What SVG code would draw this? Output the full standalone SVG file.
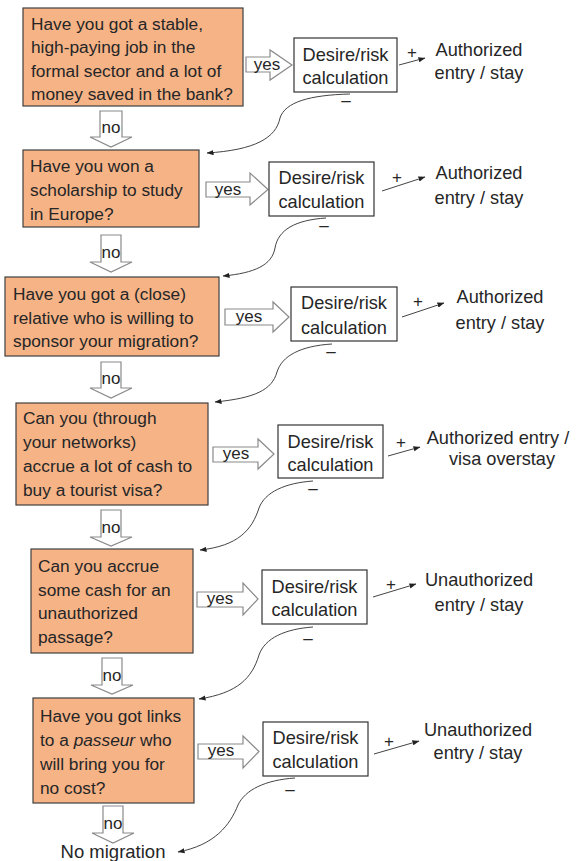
<svg xmlns="http://www.w3.org/2000/svg" width="577" height="861" viewBox="0 0 577 861">
<defs>
<marker id="ah" viewBox="0 0 8 6" refX="7.5" refY="3" markerWidth="7" markerHeight="5.5" markerUnits="userSpaceOnUse" orient="auto">
<path d="M0,0 L8,3 L0,6 Z" fill="#222"/>
</marker>
</defs>
<style>
text{font-family:"Liberation Sans",Arial,sans-serif;font-size:17px;fill:#262626}
.q text{font-size:17.3px}
.d text,.o text{font-size:18.2px}
#end text{font-size:18.5px}
.q rect{fill:#F5B386;stroke:#3f3f3f;stroke-width:1.2}
.d rect{fill:#fff;stroke:#333;stroke-width:1.2}
.blk{fill:#fff;stroke:#8a8a8a;stroke-width:1.2}
.c{fill:none;stroke:#444;stroke-width:1}
.m{text-anchor:middle}
</style>
<rect width="577" height="861" fill="#fff"/>

<g id="connectors">
<!-- yes arrows -->
<polygon class="blk" points="246,57 270,57 270,50 292,65 270,80 270,72 246,72"/>
<polygon class="blk" points="206,182 250,182 250,173 268,189.5 250,205 250,197 206,197"/>
<polygon class="blk" points="225,309 273,309 273,302 289,317 273,332 273,325 225,325"/>
<polygon class="blk" points="213,447 258,447 258,439 274,454 258,469 258,462 213,462"/>
<polygon class="blk" points="197,592 243,592 243,583 258,599 243,615 243,607 197,607"/>
<polygon class="blk" points="198,744 243,744 243,736 259,751.5 243,768 243,759 198,759"/>
<!-- no arrows -->
<polygon class="blk" points="100,111 122,111 122,137 132,137 111,147 90,137 100,137"/>
<polygon class="blk" points="101,235 121,235 121,262 132,262 111,272 90,262 101,262"/>
<polygon class="blk" points="101,362 121,362 121,388 132,388 111,398 90,388 101,388"/>
<polygon class="blk" points="101,510 121,510 121,537 132,537 111,546 90,537 101,537"/>
<polygon class="blk" points="102,658 122,658 122,685 133,685 112,694 91,685 102,685"/>
<polygon class="blk" points="103,806 123,806 123,833 134,833 113,843 92,833 103,833"/>
<!-- plus arrows -->
<line class="c" x1="399" y1="65" x2="425" y2="58" marker-end="url(#ah)"/>
<line class="c" x1="382" y1="191" x2="425" y2="177" marker-end="url(#ah)"/>
<line class="c" x1="402" y1="317" x2="444" y2="303" marker-end="url(#ah)"/>
<line class="c" x1="388" y1="456" x2="420" y2="447" marker-end="url(#ah)"/>
<line class="c" x1="373" y1="597" x2="416" y2="584" marker-end="url(#ah)"/>
<line class="c" x1="374" y1="754" x2="419" y2="741" marker-end="url(#ah)"/>
<!-- minus curves -->
<path class="c" d="M350,94 C310,95 285,102 280,118 C276,138 255,150 207,153" marker-end="url(#ah)"/>
<path class="c" d="M326,218 C295,220 278,230 275,248 C272,265 255,273 223,276" marker-end="url(#ah)"/>
<path class="c" d="M332,344 C300,346 282,356 277,372 C272,390 255,398 215,402" marker-end="url(#ah)"/>
<path class="c" d="M313,481 C285,483 265,492 259,508 C252,530 238,546 200,550" marker-end="url(#ah)"/>
<path class="c" d="M313,627 C285,629 265,638 259,655 C252,678 238,693 199,699" marker-end="url(#ah)"/>
<path class="c" d="M295,778 C265,780 245,790 238,805 C230,825 215,845 178,852" marker-end="url(#ah)"/>
<!-- labels -->
<text x="267" y="70" class="m">yes</text>
<text x="228" y="195" class="m">yes</text>
<text x="249" y="322" class="m">yes</text>
<text x="236" y="459" class="m">yes</text>
<text x="220" y="604" class="m">yes</text>
<text x="221" y="756" class="m">yes</text>
<text x="111" y="133" class="m">no</text>
<text x="111" y="258" class="m">no</text>
<text x="111" y="384" class="m">no</text>
<text x="111" y="533" class="m">no</text>
<text x="112" y="681" class="m">no</text>
<text x="113" y="829" class="m">no</text>
<text x="412" y="58" class="m">+</text>
<text x="397" y="183" class="m">+</text>
<text x="418" y="307" class="m">+</text>
<text x="401" y="448" class="m">+</text>
<text x="391" y="590" class="m">+</text>
<text x="389" y="747" class="m">+</text>
<text x="346" y="106" class="m">–</text>
<text x="324" y="231" class="m">–</text>
<text x="331" y="357" class="m">–</text>
<text x="313" y="494" class="m">–</text>
<text x="308" y="644" class="m">–</text>
<text x="290" y="795" class="m">–</text>
</g>

<g id="q1" class="q">
<rect x="23" y="8" width="220" height="98"/>
<text x="31" y="30">Have you got a stable,</text>
<text x="31" y="53">high-paying job in the</text>
<text x="31" y="77">formal sector and a lot of</text>
<text x="31" y="100">money saved in the bank?</text>
</g>
<g id="d1" class="d">
<rect x="294" y="38" width="103" height="54"/>
<text x="345.5" y="61" class="m">Desire/risk</text>
<text x="345.5" y="84" class="m">calculation</text>
</g>
<g id="o1" class="o">
<text x="479" y="56" class="m">Authorized</text>
<text x="479" y="79" class="m">entry / stay</text>
</g>

<g id="q2" class="q">
<rect x="23" y="150" width="176" height="77"/>
<text x="30" y="172">Have you won a</text>
<text x="30" y="196">scholarship to study</text>
<text x="30" y="220">in Europe?</text>
</g>
<g id="d2" class="d">
<rect x="269" y="162" width="105" height="54"/>
<text x="321.5" y="184" class="m">Desire/risk</text>
<text x="321.5" y="208" class="m">calculation</text>
</g>
<g id="o2" class="o">
<text x="479" y="179" class="m">Authorized</text>
<text x="479" y="204" class="m">entry / stay</text>
</g>

<g id="q3" class="q">
<rect x="5" y="277" width="214" height="79"/>
<text x="13" y="300">Have you got a (close)</text>
<text x="13" y="324">relative who is willing to</text>
<text x="13" y="347">sponsor your migration?</text>
</g>
<g id="d3" class="d">
<rect x="291" y="287" width="106" height="54"/>
<text x="344" y="309" class="m">Desire/risk</text>
<text x="344" y="334" class="m">calculation</text>
</g>
<g id="o3" class="o">
<text x="500" y="303" class="m">Authorized</text>
<text x="500" y="329" class="m">entry / stay</text>
</g>

<g id="q4" class="q">
<rect x="16" y="403" width="192" height="102"/>
<text x="23" y="424">Can you (through</text>
<text x="23" y="448">your networks)</text>
<text x="23" y="472">accrue a lot of cash to</text>
<text x="23" y="496">buy a tourist visa?</text>
</g>
<g id="d4" class="d">
<rect x="278" y="425" width="105" height="53"/>
<text x="330.5" y="448" class="m">Desire/risk</text>
<text x="330.5" y="471" class="m">calculation</text>
</g>
<g id="o4" class="o">
<text x="498" y="444" class="m">Authorized entry /</text>
<text x="502" y="465" class="m">visa overstay</text>
</g>

<g id="q5" class="q">
<rect x="31" y="549" width="162" height="104"/>
<text x="38" y="572">Can you accrue</text>
<text x="38" y="596">some cash for an</text>
<text x="38" y="619">unauthorized</text>
<text x="38" y="643">passage?</text>
</g>
<g id="d5" class="d">
<rect x="262" y="570" width="105" height="54"/>
<text x="314.5" y="593" class="m">Desire/risk</text>
<text x="314.5" y="616" class="m">calculation</text>
</g>
<g id="o5" class="o">
<text x="479" y="586" class="m">Unauthorized</text>
<text x="479" y="611" class="m">entry / stay</text>
</g>

<g id="q6" class="q">
<rect x="33" y="698" width="161" height="105"/>
<text x="40" y="722">Have you got links</text>
<text x="40" y="746">to a <tspan font-style="italic">passeur</tspan> who</text>
<text x="40" y="770">will bring you for</text>
<text x="40" y="794">no cost?</text>
</g>
<g id="d6" class="d">
<rect x="263" y="722" width="105" height="54"/>
<text x="315.5" y="744" class="m">Desire/risk</text>
<text x="315.5" y="768" class="m">calculation</text>
</g>
<g id="o6" class="o">
<text x="478" y="736" class="m">Unauthorized</text>
<text x="478" y="759" class="m">entry / stay</text>
</g>

<g id="end">
<text x="113" y="858" class="m">No migration</text>
</g>
</svg>
